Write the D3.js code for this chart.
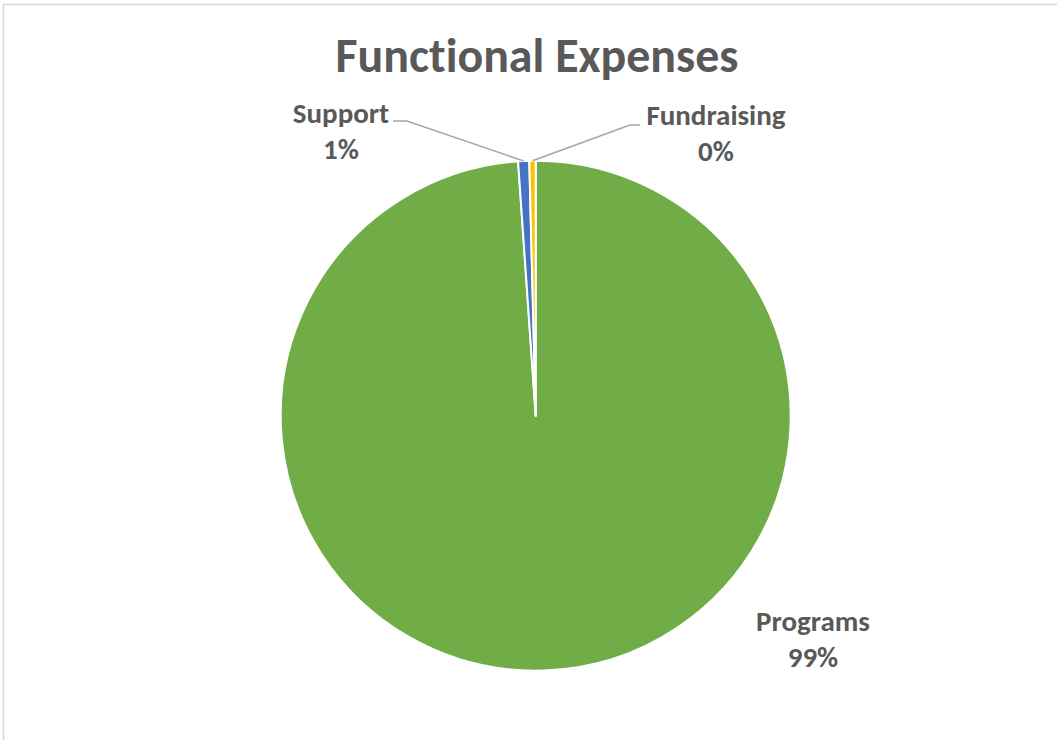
<!DOCTYPE html>
<html>
<head>
<meta charset="utf-8">
<script src="https://cdn.jsdelivr.net/npm/d3@7"></script>
<style>
  html, body { margin: 0; padding: 0; background: #fff; }
  svg { display: block; }
  text { font-family: Carlito, "Open Sans", "Noto Sans", sans-serif; font-weight: bold; fill: #595959; font-variant-ligatures: none; font-feature-settings: "liga" 0, "clig" 0; }
</style>
</head>
<body>
<svg id="chart" width="1057" height="740"></svg>
<script>
const title = "Functional Expenses";
const categories = ["Programs", "Support", "Fundraising"];
const values = [98.9, 0.7, 0.4];
const percentLabels = ["99%", "1%", "0%"];
const colors = ["#70AD47", "#4472C4", "#FFC000"];

const svg = d3.select("#chart");
const W = 1057, H = 740;

// chart border (top and left visible)
svg.append("rect")
  .attr("x", 3.5).attr("y", 4.5)
  .attr("width", W + 10).attr("height", H + 10)
  .attr("fill", "none").attr("stroke", "#d9d9d9").attr("stroke-width", 1.6);

// title
const titleText = svg.append("text")
  .attr("x", 537).attr("y", 72)
  .attr("text-anchor", "middle")
  .style("font-size", "38px")
  .text(title);
(function fit(node, target) {
  const w = node.getComputedTextLength();
  const fs = parseFloat(node.style.fontSize);
  node.style.fontSize = (fs * target / w) + "px";
})(titleText.node(), 403);

const cx = 535.7, cy = 415.7, R = 255;
const g = svg.append("g").attr("transform", `translate(${cx},${cy})`);

const data = categories.map((c, i) => ({ name: c, value: values[i], pct: percentLabels[i], color: colors[i] }));
const pie = d3.pie().value(d => d.value).sort(null).startAngle(0).endAngle(2 * Math.PI);
const arcs = pie(data);
const arc = d3.arc().innerRadius(0).outerRadius(R);

g.selectAll("path.slice")
  .data(arcs)
  .enter().append("path")
  .attr("class", "slice")
  .attr("d", arc)
  .attr("fill", d => d.data.color)
  .attr("stroke", "#fff")
  .attr("stroke-width", 2)
  .attr("stroke-linejoin", "round");

// label positions (absolute) and leader elbows
const labelPos = {
  "Programs": { x: 813, y: 631, leader: null },
  "Support": { x: 341, y: 123, anchorX: 393, elbowX: 407, elbowY: 121 },
  "Fundraising": { x: 716, y: 125, anchorX: 640, elbowX: 630, elbowY: 125 }
};

arcs.forEach(a => {
  const p = labelPos[a.data.name];
  const fs = 29;
  const t = svg.append("text")
    .attr("text-anchor", "middle")
    .style("font-size", fs + "px");
  t.append("tspan").attr("x", p.x).attr("y", p.y).text(a.data.name);
  t.append("tspan").attr("x", p.x).attr("y", p.y + 36).text(a.data.pct);
  if (p.elbowX !== undefined) {
    const mid = (a.startAngle + a.endAngle) / 2;
    const ex = cx + R * Math.sin(mid), ey = cy - R * Math.cos(mid);
    svg.append("polyline")
      .attr("points", [[p.anchorX, p.elbowY], [p.elbowX, p.elbowY], [ex, ey]].map(q => q.join(",")).join(" "))
      .attr("fill", "none")
      .attr("stroke", "#A6A6A6")
      .attr("stroke-width", 1.5);
  }
});
</script>
</body>
</html>
